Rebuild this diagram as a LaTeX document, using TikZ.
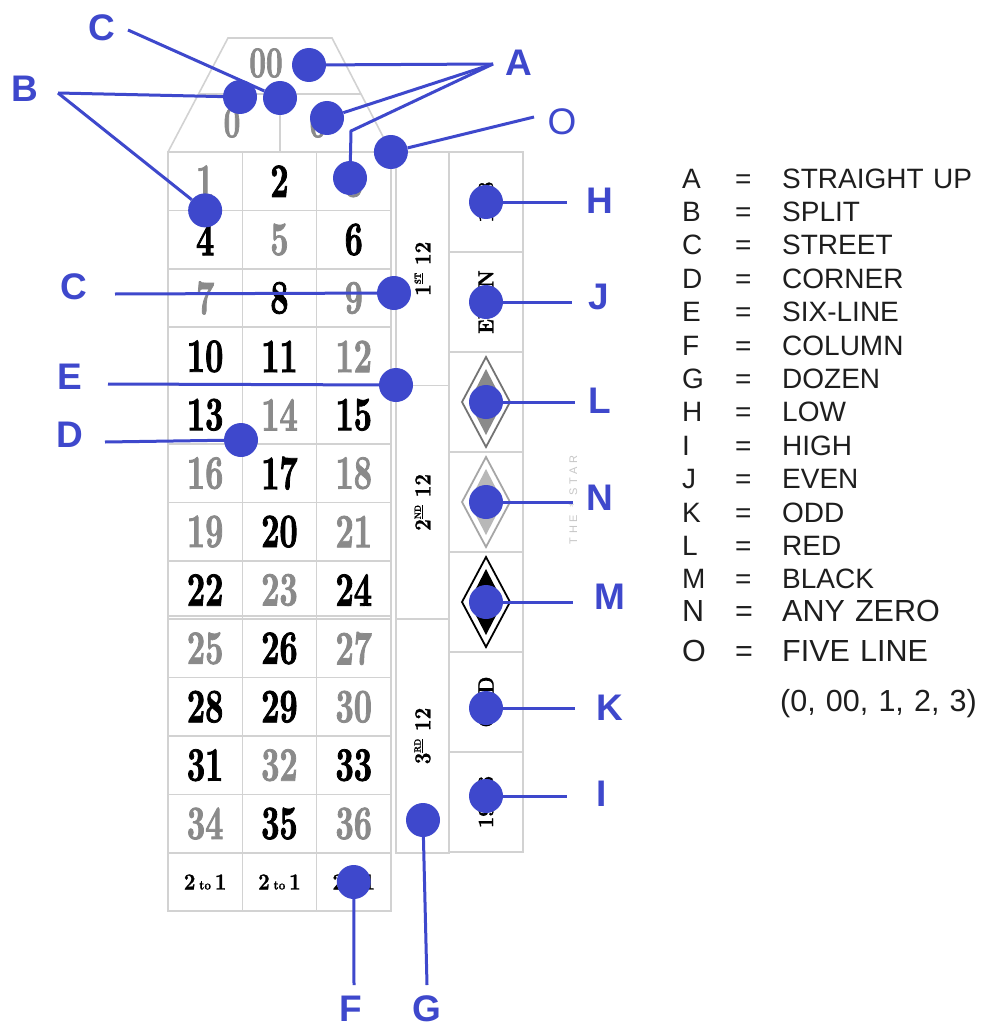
\documentclass[tikz,border=0pt]{standalone}
\usepackage{fontspec}
\setsansfont{Liberation Sans}
\newfontfamily\symfont{DejaVu Sans}
\newfontfamily\tablefont{lmroman10-bold.otf}[FakeStretch=0.66,FakeBold=1.6]
\newfontfamily\boxfamily{lmroman10-bold.otf}[FakeStretch=0.88,FakeBold=1]
\newfontfamily\starfont{Liberation Sans}[LetterSpace=35]
\usetikzlibrary{positioning,chains}

\definecolor{chipblue}{RGB}{62,72,204}
\definecolor{redgray}{RGB}{138,138,138}
\definecolor{gridgray}{RGB}{210,210,210}
\definecolor{legendtext}{RGB}{30,30,30}

\newcommand\twotoone{2\,{\fontsize{13}{13}\selectfont to}\,1}
\newcommand\ordinal[2]{#1\raisebox{.42em}{\fontsize{9}{9}\selectfont\underline{#2}}\ 12}
\newcommand\keyline[2]{\makebox[53pt][l]{#1}\makebox[47pt][l]{=}#2}

\tikzset{
  cell/.style={draw=gridgray,line width=1.6pt,inner sep=0pt,outer sep=0pt,minimum width=74.3pt,minimum height=58.4pt,
    font=\tablefont\fontsize{48}{48}\selectfont},
  redcell/.style={cell,text=redgray},
  blackcell/.style={cell,text=black},
  tworow/.style={cell,font=\boxfamily\fontsize{23}{23}\selectfont},
  sidecell/.style={draw=gridgray,line width=1.6pt,inner sep=0pt,outer sep=0pt},
  boxtext/.style={rotate=90,font=\boxfamily\fontsize{22}{22}\selectfont},
  chip/.style={circle,fill=chipblue,minimum size=34pt,inner sep=0pt},
  wire/.style={draw=chipblue,line width=3pt},
  marker/.style={text=chipblue,inner sep=0pt,font=\sffamily\bfseries\fontsize{37}{37}\selectfont},
  legendrow/.style={text=legendtext,inner sep=0pt,text width=300pt,align=left,text height=20pt,text depth=0pt,
    font=\sffamily\fontsize{28}{28}\selectfont}
}

\begin{document}
\begin{tikzpicture}[x=1pt,y=-1pt]
\useasboundingbox[fill=white] (0,0) rectangle (988,1030);

% zeros
\draw[gridgray,line width=1.6pt] (168,152) -- (228,38) -- (332,38) -- (391,152);
\draw[gridgray,line width=1.6pt] (198.5,94) -- (361,94) (280,94) -- (280,152);
\node[text=redgray,font=\tablefont\fontsize{44}{44}\selectfont] (zero00) at (266,63) {00};
\node[text=redgray,font=\tablefont\fontsize{44}{44}\selectfont] (zeroLeft) at (232,123) {0};
\node[text=redgray,font=\tablefont\fontsize{44}{44}\selectfont] (zeroRight) at (318,123) {0};

% first column
\begin{scope}[start chain=first going below,node distance=0pt,every node/.style={on chain}]
\node[redcell] (n1) at (205.15,181.2) {1};
\node[blackcell] (n4) {4};
\node[redcell] (n7) {7};
\node[blackcell] (n10) {10};
\node[blackcell] (n13) {13};
\node[redcell] (n16) {16};
\node[redcell] (n19) {19};
\node[blackcell] (n22) {22};
\node[redcell] (n25) {25};
\node[blackcell] (n28) {28};
\node[blackcell] (n31) {31};
\node[redcell] (n34) {34};
\node[tworow] (col1) {\twotoone};
\end{scope}

% second column
\begin{scope}[start chain=second going below,node distance=0pt,every node/.style={on chain}]
\node[blackcell] (n2) at (279.45,181.2) {2};
\node[redcell] (n5) {5};
\node[blackcell] (n8) {8};
\node[blackcell] (n11) {11};
\node[redcell] (n14) {14};
\node[blackcell] (n17) {17};
\node[blackcell] (n20) {20};
\node[redcell] (n23) {23};
\node[blackcell] (n26) {26};
\node[blackcell] (n29) {29};
\node[redcell] (n32) {32};
\node[blackcell] (n35) {35};
\node[tworow] (col2) {\twotoone};
\end{scope}

% third column
\begin{scope}[start chain=third going below,node distance=0pt,every node/.style={on chain}]
\node[redcell] (n3) at (353.75,181.2) {3};
\node[blackcell] (n6) {6};
\node[redcell] (n9) {9};
\node[redcell] (n12) {12};
\node[blackcell] (n15) {15};
\node[redcell] (n18) {18};
\node[redcell] (n21) {21};
\node[blackcell] (n24) {24};
\node[redcell] (n27) {27};
\node[redcell] (n30) {30};
\node[blackcell] (n33) {33};
\node[redcell] (n36) {36};
\node[tworow] (col3) {\twotoone};
\end{scope}
\draw[gridgray,line width=1.6pt] ([yshift=3.5pt]n22.south west) -- ([yshift=3.5pt]n24.south east);

% dozens
\begin{scope}[start chain=dozens going below,node distance=0pt,every node/.style={sidecell,on chain,minimum width=53pt,minimum height=233.6pt}]
\node (doz1) at (422.5,268.8) {};
\node (doz2) {};
\node (doz3) {};
\end{scope}
\node[boxtext,font=\boxfamily\fontsize{23}{23}\selectfont] at (doz1) {\ordinal{1}{ST}};
\node[boxtext,font=\boxfamily\fontsize{23}{23}\selectfont] at (doz2) {\ordinal{2}{ND}};
\node[boxtext,font=\boxfamily\fontsize{23}{23}\selectfont] at (doz3) {\ordinal{3}{RD}};

% even money
\begin{scope}[start chain=outside going below,node distance=0pt,every node/.style={sidecell,on chain,minimum width=74pt,minimum height=100pt}]
\node (cellLow) at (486,202) {};
\node (cellEven) {};
\node (cellRed) {};
\node (cellAnyZero) {};
\node (cellBlack) {};
\node (cellOdd) {};
\node (cellHigh) {};
\end{scope}
\node[boxtext] at (cellLow) {1-18};
\node[boxtext] at (cellEven) {EVEN};
\node[boxtext] at (cellOdd) {ODD};
\node[boxtext] at (cellHigh) {19-36};
\foreach \c/\edge/\inner in {cellRed/black!55/redgray,cellAnyZero/black!35/black!28,cellBlack/black/black}{
  \draw[draw=\edge,line width=1.8pt,fill=white] ([yshift=45pt]\c.center) -- ([xshift=24pt]\c.center)
    -- ([yshift=-45pt]\c.center) -- ([xshift=-24pt]\c.center) -- cycle;
  \fill[\inner] ([yshift=33pt]\c.center) -- ([xshift=17pt]\c.center)
    -- ([yshift=-33pt]\c.center) -- ([xshift=-17pt]\c.center) -- cycle;
}
\node[rotate=90,text=black!22,font=\starfont\fontsize{11}{11}\selectfont] (starMark) at (573,500) {THE {\symfont *} STAR};

% chips
\begin{scope}[every node/.style={chip}]
\node (chip00) at (309,65) {};
\node (chipZero) at (327,118) {};
\node (chipThree) at (350,178) {};
\node (chipSplitZero) at (240,97) {};
\node (chipStreetZero) at (280,98) {};
\node (chipFive) at (n3.north east) {};
\node (chipSplit) at (n1.south) {};
\node (chipStreet) at (394,293) {};
\node (chipSixLine) at (396,385) {};
\node (chipCorner) at (241,440) {};
\node (chipLow) at (cellLow) {};
\node (chipEven) at (cellEven) {};
\node (chipRed) at (cellRed) {};
\node (chipAnyZero) at (cellAnyZero) {};
\node (chipBlack) at (cellBlack) {};
\node (chipOdd) at ([yshift=-6pt]cellOdd.center) {};
\node (chipHigh) at ([yshift=6pt]cellHigh.center) {};
\node (chipColumn) at (col3) {};
\node (chipDozen) at (423,820) {};
\end{scope}

% letters
\begin{scope}[every node/.style={marker}]
\node (lblA) at (519,63) {A};
\node (lblB) at (25,89) {B};
\node (lblCzero) at (102,28) {C};
\node[font=\sffamily\fontsize{37}{37}\selectfont] (lblO) at (562,122) {O};
\node (lblC) at (74,287) {C};
\node (lblE) at (70,377) {E};
\node (lblD) at (70,435) {D};
\node (lblH) at (600,201) {H};
\node (lblJ) at (599,297) {J};
\node (lblL) at (600,401) {L};
\node (lblN) at (600,498) {N};
\node (lblM) at (610,597) {M};
\node (lblK) at (610,708) {K};
\node (lblI) at (602,794) {I};
\node (lblF) at (351,1009) {F};
\node (lblG) at (427,1009) {G};
\end{scope}
\coordinate (tipA) at (493,64);
\coordinate (bendA) at (351,131);
\coordinate (tipB) at (58,93);
\coordinate (tipCzero) at (128,30);
\coordinate (tipO) at (534,117);
\coordinate (tipC) at (115,294);
\coordinate (tipE) at (108,384);
\coordinate (tipD) at (105,442);
\coordinate (tipH) at (567,202);
\coordinate (tipJ) at (572,302);
\coordinate (tipL) at (575,402);
\coordinate (tipN) at (573,502);
\coordinate (tipM) at (573,602);
\coordinate (tipK) at (575,708);
\coordinate (tipI) at (567,796);
\coordinate (tipF) at (354,985);
\coordinate (tipG) at (427,985);

% wires
\begin{scope}[every path/.style={wire}]
\path (tipA) -- (chip00);
\path (tipA) -- (chipZero);
\path (tipA) -- (bendA) -- (chipThree);
\path (tipB) -- (chipSplitZero);
\path (tipB) -- (chipSplit);
\path (tipCzero) -- (chipStreetZero);
\path (tipO) -- (chipFive);
\path (tipC) -- (chipStreet);
\path (tipE) -- (chipSixLine);
\path (tipD) -- (chipCorner);
\path (chipLow) -- (tipH);
\path (chipEven) -- (tipJ);
\path (chipRed) -- (tipL);
\path (chipAnyZero) -- (tipN);
\path (chipBlack) -- (tipM);
\path (chipOdd) -- (tipK);
\path (chipHigh) -- (tipI);
\path (chipColumn) -- (tipF);
\path (chipDozen) -- (tipG);
\end{scope}

% legend
\begin{scope}[start chain=legend going below,node distance=13pt,every node/.style={on chain,legendrow}]
\node[anchor=west] (keyA) at (682,178) {\keyline{A}{STRAIGHT UP}};
\node (keyB) {\keyline{B}{SPLIT}};
\node (keyC) {\keyline{C}{STREET}};
\node (keyD) {\keyline{D}{CORNER}};
\node (keyE) {\keyline{E}{SIX-LINE}};
\node (keyF) {\keyline{F}{COLUMN}};
\node (keyG) {\keyline{G}{DOZEN}};
\node (keyH) {\keyline{H}{LOW}};
\node (keyI) {\keyline{I}{HIGH}};
\node (keyJ) {\keyline{J}{EVEN}};
\node (keyK) {\keyline{K}{ODD}};
\node (keyL) {\keyline{L}{RED}};
\node (keyM) {\keyline{M}{BLACK}};
\end{scope}
\node[legendrow,anchor=west,text height=22pt,font=\sffamily\fontsize{30.5}{30.5}\selectfont] (keyN) at (682,610) {\keyline{N}{ANY ZERO}};
\node[legendrow,anchor=west,text height=22pt,font=\sffamily\fontsize{30.5}{30.5}\selectfont] (keyO) at (682,650) {\keyline{O}{FIVE LINE}};
\node[legendrow,anchor=west,text height=22pt,font=\sffamily\fontsize{30.5}{30.5}\selectfont] (keyFive) at (780,700) {(0, 00, 1, 2, 3)};

\end{tikzpicture}
\end{document}
